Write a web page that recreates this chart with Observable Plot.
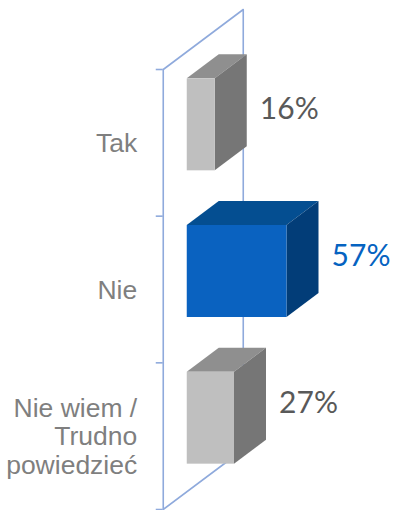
<!DOCTYPE html>
<html>
<head>
<meta charset="utf-8">
<script src="https://cdn.jsdelivr.net/npm/d3@7"></script>
<script src="https://cdn.jsdelivr.net/npm/@observablehq/plot@0.6"></script>
<style>
  html, body { margin: 0; padding: 0; background: #ffffff; }
  #chart { width: 400px; height: 510px; }
</style>
</head>
<body>
<div id="chart"></div>
<script>
// ---- data ----
const categories = ["Tak", "Nie", "Nie wiem /\nTrudno\npowiedzieć"];
const values = [16, 57, 27];
const highlight = "Nie";

// ---- 3D projection settings (oblique) ----
const PX_PER_UNIT_X = 1.75;           // pixels per percent
const PX_PER_UNIT_Y = 440 / 3;        // pixels per category band
const DEPTH_PX_X = 80, DEPTH_PX_Y = -60;
const DXU = DEPTH_PX_X / PX_PER_UNIT_X;
const DYU = DEPTH_PX_Y / PX_PER_UNIT_Y;
const Z0 = 0.3, Z1 = 0.7;             // bar front / back depth
const H = 0.3136;                      // half bar height (band units)

const rows = categories.map((c, i) => ({cat: c, value: values[i], idx: i, hi: c === highlight}));
const n = categories.length;

const pal = {
  gray: {front: "#BFBFBF", top: "#8F8F8F", side: "#767676"},
  blue: {front: "#0A62C0", top: "#044E91", side: "#023D78"}
};
const col = d => d.hi ? pal.blue : pal.gray;

// faces
const sides = rows.flatMap(d => [Z0, Z1].map(z => ({
  id: d.cat, fill: col(d).side,
  x: d.value + z * DXU,
  y1: d.idx + H + z * DYU,
  y2: d.idx - H + z * DYU
})));
const tops = rows.flatMap(d => [Z0, Z1].map(z => ({
  id: d.cat, fill: col(d).top,
  y: d.idx - H + z * DYU,
  x1: z * DXU,
  x2: d.value + z * DXU
})));

// wall outline
const lo = -0.5, hiY = n - 0.5;
const wall = [
  {x: 0, y: lo}, {x: DXU, y: lo + DYU}, {x: DXU, y: hiY + DYU}, {x: 0, y: hiY}, {x: 0, y: lo}
];
const ticks = d3.range(n + 1).map(i => ({y: i - 0.5}));

const axisColor = "#8FAADC";

const chart = Plot.plot({
  width: 400,
  height: 510,
  margin: 0,
  x: {domain: [0, 100], range: [162.75, 162.75 + 100 * PX_PER_UNIT_X], axis: null},
  y: {domain: [lo, hiY], range: [69, 509], axis: null},
  marks: [
    Plot.line(wall, {x: "x", y: "y", stroke: axisColor, strokeWidth: 1.6}),
    Plot.ruleY(ticks, {y: "y", x1: () => -4, x2: () => 0, stroke: axisColor, strokeWidth: 1.6}),
    Plot.areaX(tops, {y: "y", x1: "x1", x2: "x2", z: "id", fill: d => d.fill}),
    Plot.areaY(sides, {x: "x", y1: "y1", y2: "y2", z: "id", fill: d => d.fill}),
    Plot.rect(rows, {
      x1: () => Z0 * DXU,
      x2: d => d.value + Z0 * DXU,
      y1: d => d.idx - H + Z0 * DYU,
      y2: d => d.idx + H + Z0 * DYU,
      fill: d => col(d).front
    }),
    Plot.text(rows, {
      x: () => 0, y: "idx", text: "cat",
      dx: -26, textAnchor: "end", lineHeight: 1.07,
      fontSize: 26.5, fontFamily: "Liberation Sans, Arial, sans-serif",
      fill: "#7F7F7F"
    }),
    Plot.text(rows, {
      x: d => d.value + Z0 * DXU,
      y: d => d.idx + Z0 * DYU,
      text: d => d.value + "%",
      dx: 74, dy: -15, textAnchor: "middle",
      fontSize: 30, fontFamily: "Lato, 'Open Sans', sans-serif",
      fill: d => d.hi ? "#0563C1" : "#595959"
    })
  ]
});
chart.style.background = "#ffffff";
document.getElementById("chart").appendChild(chart);
</script>
</body>
</html>
